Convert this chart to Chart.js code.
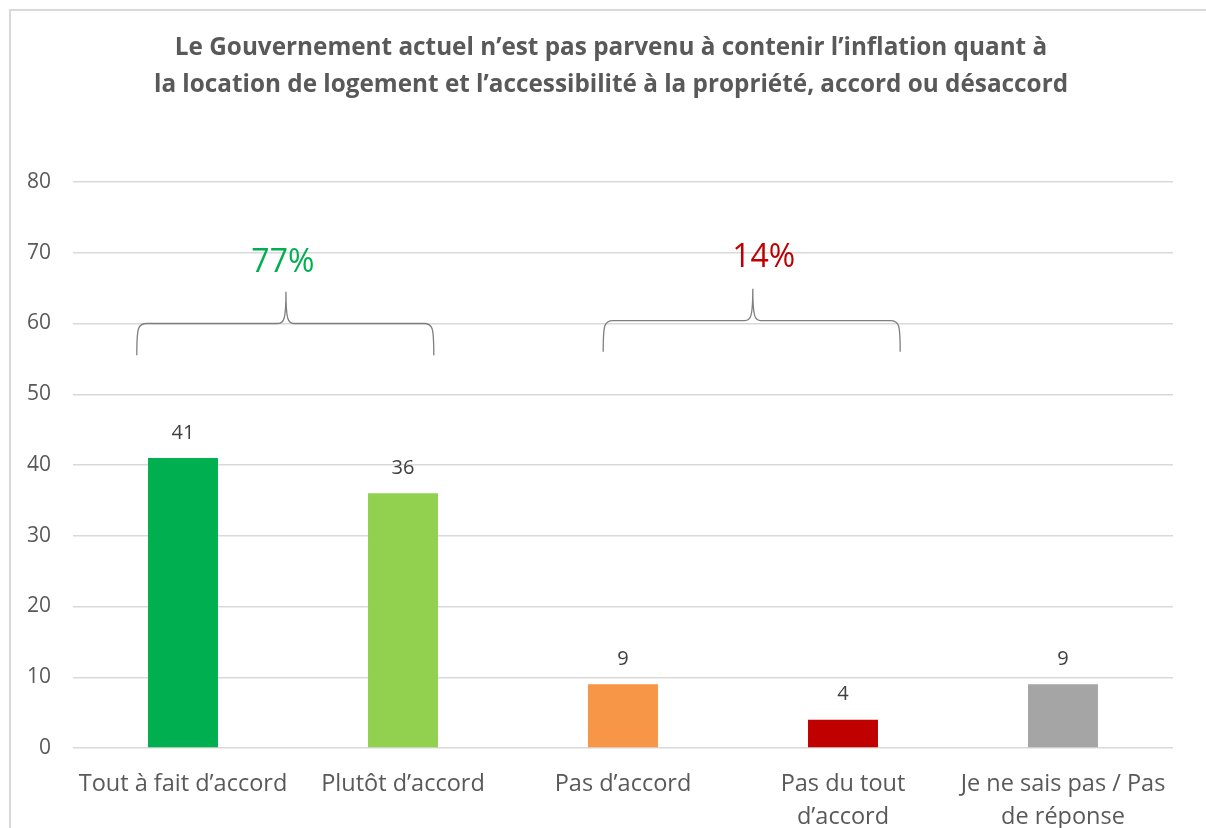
<!DOCTYPE html>
<html>
<head>
<meta charset="utf-8">
<script src="https://cdn.jsdelivr.net/npm/chart.js@4"></script>
<style>
  html, body { margin: 0; padding: 0; background: #ffffff; }
  #wrap { width: 1206px; height: 828px; position: relative; }
</style>
</head>
<body>
<div id="wrap"><canvas id="c" width="1206" height="828"></canvas></div>
<script>
const titleLines = [
  "Le Gouvernement actuel n\u2019est pas parvenu \u00e0 contenir l\u2019inflation quant \u00e0",
  "la location de logement et l\u2019accessibilit\u00e9 \u00e0 la propri\u00e9t\u00e9, accord ou d\u00e9saccord"
];
const categories = [
  "Tout \u00e0 fait d\u2019accord",
  "Plut\u00f4t d\u2019accord",
  "Pas d\u2019accord",
  ["Pas du tout", "d\u2019accord"],
  ["Je ne sais pas / Pas", "de r\u00e9ponse"]
];
const values = [41, 36, 9, 4, 9];
const barColors = ["#00B050", "#92D050", "#F79646", "#C00000", "#A5A5A5"];
const yTicks = [0, 10, 20, 30, 40, 50, 60, 70, 80];
const groupLabels = ["77%", "14%"];
const groupColors = ["#00B050", "#C00000"];
const groupFrom = [0, 2];
const groupTo = [1, 3];

const FONT = "'Open Sans', 'Liberation Sans', sans-serif";

const framePlugin = {
  id: 'frame',
  beforeDraw(chart) {
    const ctx = chart.ctx;
    ctx.save();
    ctx.strokeStyle = '#D9D9D9';
    ctx.lineWidth = 2;
    ctx.beginPath();
    ctx.moveTo(10, 828);
    ctx.lineTo(10, 10);
    ctx.lineTo(1206, 10);
    ctx.stroke();
    ctx.restore();
  },
  afterDraw(chart) {
    const ctx = chart.ctx;
    ctx.save();
    ctx.fillStyle = '#595959';
    ctx.font = "bold 24.3px " + FONT;
    ctx.textAlign = 'center';
    ctx.textBaseline = 'middle';
    ctx.fillText(titleLines[0], 611, 48);
    ctx.fillText(titleLines[1], 611, 85);
    ctx.restore();
  }
};

const valueLabelPlugin = {
  id: 'valueLabels',
  afterDatasetsDraw(chart) {
    const ctx = chart.ctx;
    const meta = chart.getDatasetMeta(0);
    ctx.save();
    ctx.fillStyle = '#404040';
    ctx.font = "20px " + FONT;
    ctx.textAlign = 'center';
    ctx.textBaseline = 'middle';
    meta.data.forEach((bar, i) => {
      ctx.fillText(String(values[i]), bar.x, bar.y - 25);
    });
    ctx.restore();
  }
};

// brace geometry in category / value units
const braceGeom = [
  { startOff: -0.21, endOff: 0.14, tipX: 0.468, base: 60.0, tip: 64.5, ends: 55.5, labelX: 0.454, labelY: 68.6 },
  { startOff: -0.09, endOff: 0.26, tipX: 2.59, base: 60.4, tip: 64.9, ends: 56.0, labelX: 2.64, labelY: 69.3 }
];

const bracePlugin = {
  id: 'braces',
  afterDatasetsDraw(chart) {
    const ctx = chart.ctx;
    const xs = chart.scales.x, ys = chart.scales.y;
    const cw = xs.getPixelForValue(1) - xs.getPixelForValue(0);
    ctx.save();
    groupLabels.forEach((lab, g) => {
      const b = braceGeom[g];
      const x0 = xs.getPixelForValue(groupFrom[g]) + b.startOff * cw;
      const x1 = xs.getPixelForValue(groupTo[g]) + b.endOff * cw;
      const xm = xs.getPixelForValue(0) + b.tipX * cw;
      const yb = ys.getPixelForValue(b.base);
      const yt = ys.getPixelForValue(b.tip);
      const ye = ys.getPixelForValue(b.ends);
      const r = 10;
      ctx.strokeStyle = '#7F7F7F';
      ctx.lineWidth = 1.3;
      ctx.beginPath();
      ctx.moveTo(x0, ye);
      ctx.bezierCurveTo(x0, yb + 4, x0 + 1, yb, x0 + r, yb);
      ctx.lineTo(xm - 8, yb);
      ctx.bezierCurveTo(xm - 2, yb, xm, yb - 4, xm, yt);
      ctx.moveTo(xm, yt);
      ctx.bezierCurveTo(xm, yb - 4, xm + 2, yb, xm + 8, yb);
      ctx.lineTo(x1 - r, yb);
      ctx.bezierCurveTo(x1 - 1, yb, x1, yb + 4, x1, ye);
      ctx.stroke();
      ctx.fillStyle = groupColors[g];
      ctx.font = "32px " + FONT;
      ctx.textAlign = 'center';
      ctx.textBaseline = 'middle';
      ctx.fillText(lab, xs.getPixelForValue(0) + b.labelX * cw, ys.getPixelForValue(b.labelY));
    });
    ctx.restore();
  }
};

new Chart(document.getElementById('c'), {
  type: 'bar',
  data: {
    labels: categories,
    datasets: [{
      data: values,
      backgroundColor: barColors,
      borderWidth: 0,
      barPercentage: 0.318,
      categoryPercentage: 1.0
    }]
  },
  options: {
    responsive: false,
    animation: false,
    devicePixelRatio: 1,
    layout: { padding: { left: 10, right: 33, top: 182, bottom: 0 } },
    plugins: {
      legend: { display: false },
      title: { display: false },
      tooltip: { enabled: false }
    },
    scales: {
      x: {
        grid: { display: false },
        border: { display: false },
        ticks: {
          color: '#595959',
          font: { family: FONT, size: 23.5, lineHeight: 1.41 },
          padding: 12,
          maxRotation: 0,
          autoSkip: false
        },
        afterFit(scale) { scale.height = 80; }
      },
      y: {
        min: 0,
        max: 80,
        afterBuildTicks(scale) { scale.ticks = yTicks.map(v => ({ value: v })); },
        grid: { color: '#D9D9D9', lineWidth: 1.5, drawTicks: false },
        border: { display: false },
        ticks: {
          color: '#595959',
          font: { family: FONT, size: 21 },
          padding: 22
        },
        afterFit(scale) { scale.width = 63; }
      }
    }
  },
  plugins: [framePlugin, valueLabelPlugin, bracePlugin]
});
</script>
</body>
</html>
